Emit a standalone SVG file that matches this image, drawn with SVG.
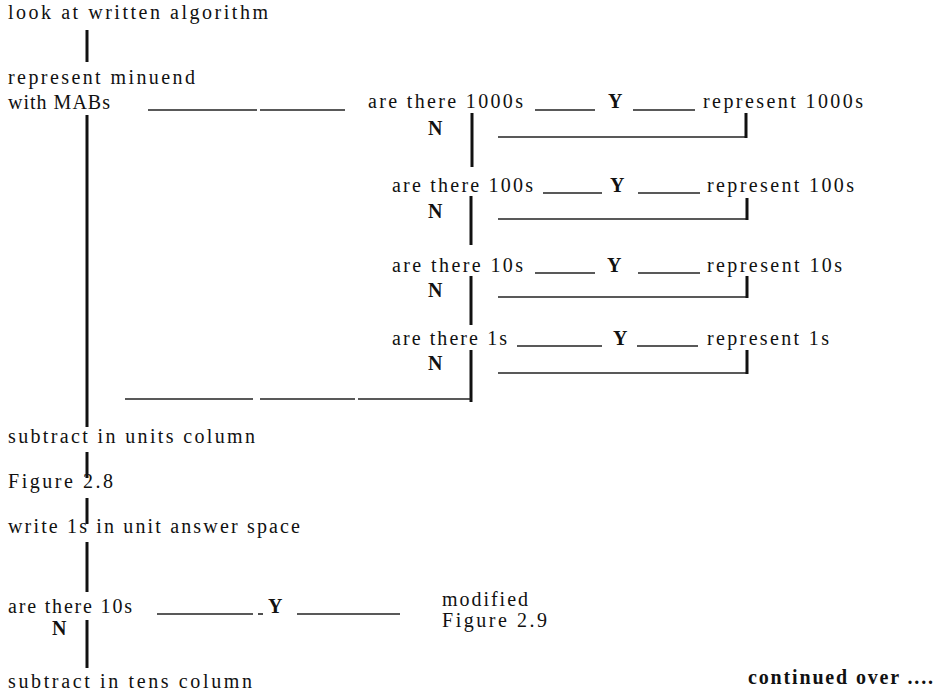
<svg xmlns="http://www.w3.org/2000/svg" width="940" height="696" viewBox="0 0 940 696">
<style>
text{font-family:"Liberation Serif","Times New Roman",serif;font-size:20px;fill:#111}
.b{font-weight:bold}
.v{stroke:#111;stroke-width:3;fill:none}
.h{stroke:#222;stroke-width:1.6;fill:none}
</style>
<rect width="940" height="696" fill="#fff"/>
<g id="connectors">
<line class="v" x1="87" y1="30" x2="87" y2="62"/>
<line class="v" x1="87" y1="115" x2="87" y2="427"/>
<line class="v" x1="87" y1="452" x2="87" y2="478"/>
<line class="v" x1="87" y1="498" x2="87" y2="524"/>
<line class="v" x1="87" y1="542" x2="87" y2="592"/>
<line class="v" x1="87" y1="620" x2="87" y2="668"/>
<line class="h" x1="148" y1="110" x2="257" y2="110"/>
<line class="h" x1="260" y1="110" x2="345" y2="110"/>
<line class="h" x1="535" y1="110" x2="595" y2="110"/>
<line class="h" x1="633" y1="110" x2="695" y2="110"/>
<line class="v" x1="472" y1="113" x2="472" y2="167"/>
<polyline class="h" points="498,137 746,137"/>
<line class="v" x1="746" y1="113" x2="746" y2="138"/>
<line class="h" x1="543" y1="193" x2="602" y2="193"/>
<line class="h" x1="638" y1="193" x2="700" y2="193"/>
<line class="v" x1="471" y1="196" x2="471" y2="245"/>
<line class="h" x1="498" y1="219" x2="747" y2="219"/>
<line class="v" x1="747" y1="198" x2="747" y2="220"/>
<line class="h" x1="535" y1="273" x2="595" y2="273"/>
<line class="h" x1="638" y1="273" x2="700" y2="273"/>
<line class="v" x1="471" y1="276" x2="471" y2="325"/>
<line class="h" x1="498" y1="297" x2="747" y2="297"/>
<line class="v" x1="747" y1="276" x2="747" y2="298"/>
<line class="h" x1="517" y1="346" x2="602" y2="346"/>
<line class="h" x1="637" y1="346" x2="698" y2="346"/>
<line class="v" x1="471" y1="350" x2="471" y2="402"/>
<line class="h" x1="498" y1="373" x2="747" y2="373"/>
<line class="v" x1="747" y1="350" x2="747" y2="374"/>
<line class="h" x1="125" y1="399" x2="253" y2="399"/>
<line class="h" x1="260" y1="399" x2="355" y2="399"/>
<line class="h" x1="358" y1="399" x2="471" y2="399"/>
<line class="h" x1="157" y1="614" x2="253" y2="614"/>
<line class="h" x1="258" y1="614" x2="263" y2="614"/>
<line class="h" x1="297" y1="614" x2="400" y2="614"/>
</g>
<g id="n-look"><text x="8" y="19" textLength="260" lengthAdjust="spacing">look at written algorithm</text></g>
<g id="n-minuend"><text x="8" y="84" textLength="187" lengthAdjust="spacing">represent minuend</text><text x="8" y="109" textLength="102" lengthAdjust="spacing">with MABs</text></g>
<g id="n-q1000"><text x="368" y="108" textLength="155" lengthAdjust="spacing">are there 1000s</text><text class="b" x="608" y="108">Y</text><text class="b" x="428" y="135">N</text></g>
<g id="n-r1000"><text x="703" y="108" textLength="160" lengthAdjust="spacing">represent 1000s</text></g>
<g id="n-q100"><text x="392" y="192" textLength="141" lengthAdjust="spacing">are there 100s</text><text class="b" x="610" y="192">Y</text><text class="b" x="428" y="218">N</text></g>
<g id="n-r100"><text x="707" y="192" textLength="147" lengthAdjust="spacing">represent 100s</text></g>
<g id="n-q10"><text x="392" y="272" textLength="131" lengthAdjust="spacing">are there 10s</text><text class="b" x="607" y="272">Y</text><text class="b" x="428" y="297">N</text></g>
<g id="n-r10"><text x="707" y="272" textLength="135" lengthAdjust="spacing">represent 10s</text></g>
<g id="n-q1"><text x="392" y="345" textLength="115" lengthAdjust="spacing">are there 1s</text><text class="b" x="613" y="345">Y</text><text class="b" x="428" y="370">N</text></g>
<g id="n-r1"><text x="707" y="345" textLength="122" lengthAdjust="spacing">represent 1s</text></g>
<g id="n-units"><text x="8" y="443" textLength="247" lengthAdjust="spacing">subtract in units column</text></g>
<g id="n-fig28"><text x="8" y="488" textLength="105" lengthAdjust="spacing">Figure 2.8</text></g>
<g id="n-write"><text x="8" y="533" textLength="292" lengthAdjust="spacing">write 1s in unit answer space</text></g>
<g id="n-q10b"><text x="8" y="613" textLength="124" lengthAdjust="spacing">are there 10s</text><text class="b" x="268" y="613">Y</text><text class="b" x="52" y="635">N</text></g>
<g id="n-fig29"><text x="442" y="606" textLength="86" lengthAdjust="spacing">modified</text><text x="442" y="627" textLength="105" lengthAdjust="spacing">Figure 2.9</text></g>
<g id="n-tens"><text x="8" y="688" textLength="244" lengthAdjust="spacing">subtract in tens column</text></g>
<g id="n-cont"><text class="b" x="748" y="684" textLength="185" lengthAdjust="spacing">continued over ....</text></g>
</svg>
